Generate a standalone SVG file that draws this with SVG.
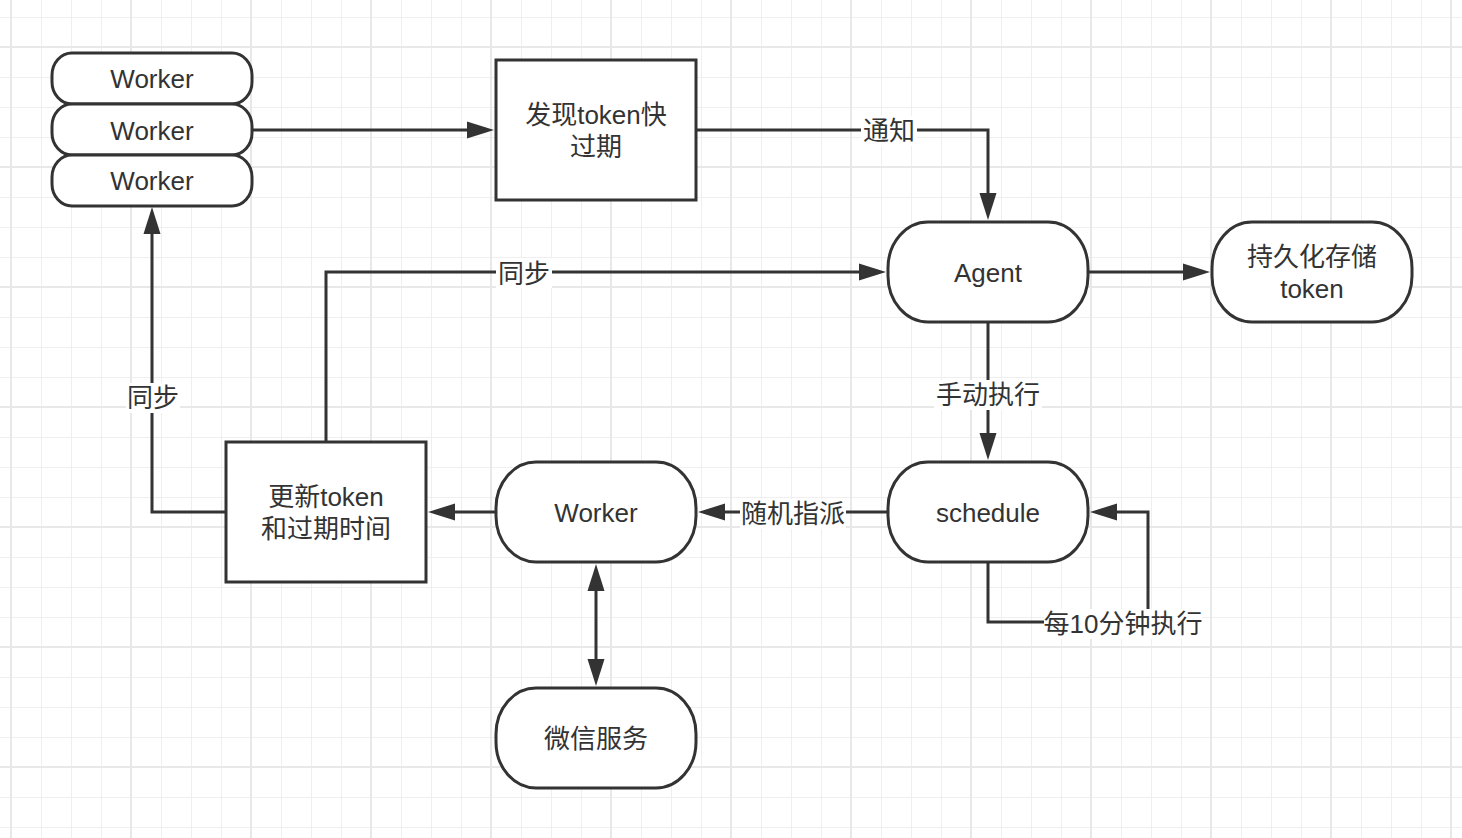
<svg xmlns="http://www.w3.org/2000/svg" width="1462" height="838" viewBox="0 0 1462 838">
<style>
.node{fill:#fff;stroke:#333;stroke-width:3}
.edge{fill:none;stroke:#333;stroke-width:3}
.t{font-family:"Liberation Sans","Noto Sans CJK SC",sans-serif;font-size:26px;fill:#333;text-anchor:middle}
.lbl{fill:#fff}
</style>
<defs>
<pattern id="gMinor" x="11" y="17" width="30" height="30" patternUnits="userSpaceOnUse">
<path d="M0.5 0V30M0 0.5H30" stroke="#efefef" stroke-width="1" fill="none"/>
</pattern>
<pattern id="gMajor" x="10" y="46" width="120" height="120" patternUnits="userSpaceOnUse">
<path d="M1 0V120M0 1H120" stroke="#e8e8e8" stroke-width="2" fill="none"/>
</pattern>
<marker id="arr" markerUnits="userSpaceOnUse" markerWidth="28" markerHeight="18" refX="17" refY="9" orient="auto-start-reverse" viewBox="0 0 28 18">
<path d="M0 0.5L27 9L0 17.5Z" fill="#333"/>
</marker>
</defs>
<rect width="1462" height="838" fill="#fff"/>
<rect width="1462" height="838" fill="url(#gMinor)"/>
<rect width="1462" height="838" fill="url(#gMajor)"/>

<g id="connectors">
<path class="edge" d="M252 130H484" marker-end="url(#arr)"/>
<path class="edge" d="M696 130H988V210" marker-end="url(#arr)"/>
<path class="edge" d="M1088 272H1200" marker-end="url(#arr)"/>
<path class="edge" d="M988 322V450" marker-end="url(#arr)"/>
<path class="edge" d="M888 512H708" marker-end="url(#arr)"/>
<path class="edge" d="M496 512H438" marker-end="url(#arr)"/>
<path class="edge" d="M596 574V676" marker-start="url(#arr)" marker-end="url(#arr)"/>
<path class="edge" d="M226 512H152V217" marker-end="url(#arr)"/>
<path class="edge" d="M326 442V272H876" marker-end="url(#arr)"/>
<path class="edge" d="M988 562V622H1148V512H1100" marker-end="url(#arr)"/>
<rect class="lbl" x="861" y="116" width="56" height="30"/>
<text class="t" x="889" y="140">通知</text>
<rect class="lbl" x="496" y="258" width="56" height="30"/>
<text class="t" x="524" y="283">同步</text>
<rect class="lbl" x="126" y="383" width="54" height="30"/>
<text class="t" x="153" y="407">同步</text>
<rect class="lbl" x="934" y="380" width="108" height="30"/>
<text class="t" x="988" y="404">手动执行</text>
<rect class="lbl" x="740" y="499" width="106" height="30"/>
<text class="t" x="793" y="523">随机指派</text>
<rect class="lbl" x="1044" y="609" width="158" height="30"/>
<text class="t" x="1123" y="633">每10分钟执行</text>
</g>

<g id="worker-stack">
<rect class="node" x="52" y="53" width="200" height="51" rx="20" ry="22"/>
<text class="t" x="152" y="88">Worker</text>
<rect class="node" x="52" y="104" width="200" height="51" rx="20" ry="22"/>
<text class="t" x="152" y="140">Worker</text>
<rect class="node" x="52" y="155" width="200" height="51" rx="20" ry="22"/>
<text class="t" x="152" y="190">Worker</text>
</g>

<g id="discover">
<rect class="node" x="496" y="60" width="200" height="140"/>
<text class="t" x="596" y="124">发现token快</text>
<text class="t" x="596" y="156">过期</text>
</g>

<g id="agent">
<rect class="node" x="888" y="222" width="200" height="100" rx="40" ry="46"/>
<text class="t" x="988" y="282">Agent</text>
</g>

<g id="storage">
<rect class="node" x="1212" y="222" width="200" height="100" rx="40" ry="46"/>
<text class="t" x="1312" y="266">持久化存储</text>
<text class="t" x="1312" y="298">token</text>
</g>

<g id="schedule">
<rect class="node" x="888" y="462" width="200" height="100" rx="40" ry="46"/>
<text class="t" x="988" y="522">schedule</text>
</g>

<g id="worker">
<rect class="node" x="496" y="462" width="200" height="100" rx="40" ry="46"/>
<text class="t" x="596" y="522">Worker</text>
</g>

<g id="wechat">
<rect class="node" x="496" y="688" width="200" height="100" rx="40" ry="46"/>
<text class="t" x="596" y="748">微信服务</text>
</g>

<g id="update">
<rect class="node" x="226" y="442" width="200" height="140"/>
<text class="t" x="326" y="506">更新token</text>
<text class="t" x="326" y="538">和过期时间</text>
</g>
</svg>
